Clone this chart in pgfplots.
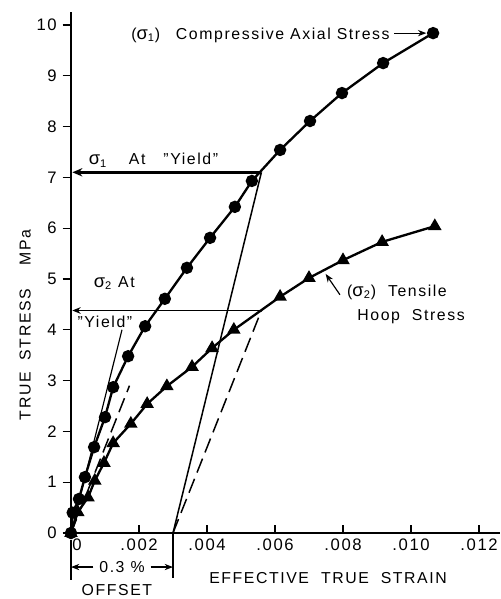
\documentclass[border=0pt]{standalone}
\usepackage{fontspec}
\setmainfont{Liberation Sans}[LetterSpace=10]
\usepackage{pgfplots}
\pgfplotsset{compat=1.18}
\usetikzlibrary{arrows.meta}

\newcommand{\sig}[1]{{\fontsize{11}{11}\selectfont σ}\textsubscript{#1}}

\begin{document}
\begin{tikzpicture}[font=\fontsize{9.5}{10.5}\selectfont]
\begin{axis}[
  scale only axis, width=257.4pt, height=312.6pt,
  xmin=0, xmax=0.012618, ymin=0, ymax=10.256,
  axis x line*=bottom, axis y line*=left,
  axis line style={line width=1.6pt,-},
  xtick={0,0.002,0.004,0.006,0.008,0.010,0.012},
  xticklabels={\hphantom{0}\,0,.002,.004,.006,.008,.010,.012},
  ytick={0,1,2,3,4,5,6,7,8,9,10},
  scaled x ticks=false,
  xtick align=inside, ytick align=outside,
  major tick length=5pt,
  tick style={line width=0.8pt, black},
  /pgf/number format/assume math mode=true,
  tick label style={font=\fontsize{10}{11}\selectfont},
  clip=false,
]
% sigma_1, compressive axial stress
\addplot[line width=1.4pt, mark=*, mark size=3pt] coordinates {
  (0,0) (0.00005,0.4) (0.000235,0.67) (0.00041,1.10) (0.00068,1.69)
  (0.0010,2.28) (0.00124,2.87) (0.00168,3.48) (0.00218,4.07)
  (0.00276,4.61) (0.00341,5.22) (0.00409,5.81) (0.00482,6.42)
  (0.00532,6.93) (0.00615,7.54) (0.00703,8.11) (0.00797,8.66)
  (0.00918,9.25) (0.01065,9.84)};
% sigma_2, tensile hoop stress
\addplot[line width=1.4pt, mark=triangle*, mark size=3.3pt] coordinates {
  (0,0) (0.0002,0.41) (0.0005,0.70) (0.0007,1.03) (0.00097,1.38)
  (0.00124,1.77) (0.00176,2.15) (0.00224,2.54) (0.00282,2.89)
  (0.00356,3.27) (0.00415,3.64) (0.00479,4.00) (0.00615,4.65)
  (0.0070,5.02) (0.0080,5.37) (0.00915,5.73) (0.0107,6.04)};
% yield constructions
\addplot[line width=1.6pt, -{Stealth[length=6pt,width=5pt]}] coordinates {(0.0056,7.1) (0.00004,7.1)};
\addplot[line width=0.9pt, -{Stealth[length=5pt,width=4pt]}] coordinates {(0.0056,4.38) (0.00004,4.38)};
\addplot[line width=0.9pt] coordinates {(0.003,0) (0.0056,7.1)};
\addplot[line width=0.7pt] coordinates {(0,0) (0.0015,4.0)};
\addplot[line width=0.9pt, dash pattern=on 9pt off 4pt] coordinates {(0.003,0) (0.0056,4.38)};
\addplot[line width=0.9pt, dash pattern=on 9pt off 4pt] coordinates {(0,0) (0.00172,2.9)};
% annotations
\node[anchor=west] at (axis cs:0.0016,9.8) {(\sig{1})\quad Compressive\ Axial\ Stress};
\draw[line width=0.7pt, -{Stealth[length=5pt]}] (axis cs:0.00950,9.84) -- (axis cs:0.01045,9.84);
\node[anchor=west] at (axis cs:0.00035,7.34) {\sig{1}\quad\ At\ \ \ "Yield"};
\node[anchor=west] at (axis cs:0.0005,4.92) {\sig{2} At};
\node[anchor=west] at (axis cs:0.00002,4.15) {"Yield"};
\node[anchor=west] at (axis cs:0.00795,4.74) {(\sig{2})\ \ Tensile};
\node[anchor=west] at (axis cs:0.00825,4.25) {Hoop\ \ Stress};
\draw[line width=0.7pt, -{Stealth[length=5pt]}] (axis cs:0.00791,4.69) -- (axis cs:0.00749,5.10);
% offset bracket
\draw[line width=0.7pt] (axis cs:0.003,0) -- (axis cs:0.003,-0.89);
\draw[line width=0.7pt] (axis cs:0,-0.14) -- (axis cs:0,-0.93);
\node (off) at (axis cs:0.0015,-0.67) {0.3 \%};
\draw[line width=0.7pt, -{Stealth[length=5pt]}] (off.west) -- (axis cs:0,-0.67);
\draw[line width=0.7pt, -{Stealth[length=5pt]}] (off.east) -- (axis cs:0.003,-0.67);
\node at (axis cs:0.00135,-1.12) {OFFSET};
\node at (axis cs:0.00756,-0.88) {EFFECTIVE\ \ TRUE\ \ STRAIN};
\node[rotate=90] at (axis cs:-0.00135,4.1) {TRUE\ \ STRESS\ \ \ \ MPa};
\coordinate (bl) at (axis cs:-0.002088,-1.299);
\coordinate (tr) at (axis cs:0.012618,10.492);
\end{axis}
\pgfresetboundingbox
\path[use as bounding box] (bl) rectangle (tr);
\end{tikzpicture}
\end{document}
